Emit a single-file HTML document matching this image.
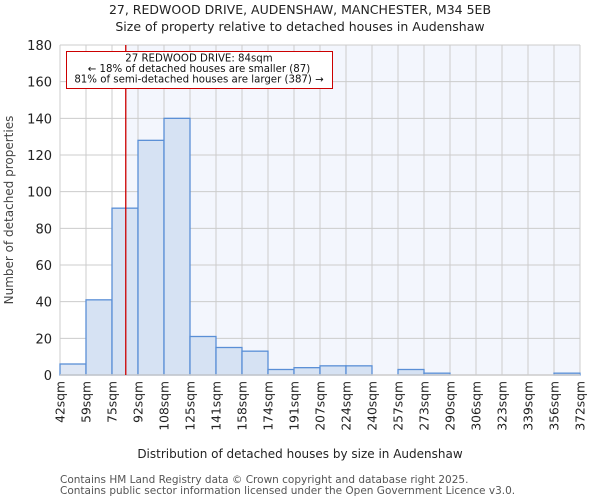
<!DOCTYPE html>
<html><head><meta charset="utf-8"><style>
body{margin:0;background:#fff;font-family:"DejaVu Sans","Liberation Sans",sans-serif;}
</style></head><body>
<svg width="600" height="500" xmlns="http://www.w3.org/2000/svg" font-family="DejaVu Sans, Liberation Sans, sans-serif">
<text x="300" y="14" text-anchor="middle" font-size="12.5" fill="#222">27, REDWOOD DRIVE, AUDENSHAW, MANCHESTER, M34 5EB</text>
<text x="300" y="31" text-anchor="middle" font-size="12.5" fill="#222">Size of property relative to detached houses in Audenshaw</text>
<g id="plot"></g>
<text x="300" y="458" text-anchor="middle" font-size="12" fill="#222">Distribution of detached houses by size in Audenshaw</text>
<text transform="translate(13,210) rotate(-90)" text-anchor="middle" font-size="12" fill="#444">Number of detached properties</text>
<text x="60" y="483" font-size="10.5" fill="#555">Contains HM Land Registry data © Crown copyright and database right 2025.</text>
<text x="60" y="494" font-size="10.5" fill="#555">Contains public sector information licensed under the Open Government Licence v3.0.</text>
</svg>
<script>
const edges=["42sqm","59sqm","75sqm","92sqm","108sqm","125sqm","141sqm","158sqm","174sqm","191sqm","207sqm","224sqm","240sqm","257sqm","273sqm","290sqm","306sqm","323sqm","339sqm","356sqm","372sqm"];
const counts=[6,41,91,128,140,21,15,13,3,4,5,5,0,3,1,0,0,0,0,1];
const yTicks=[0,20,40,60,80,100,120,140,160,180];
const markerIndex=2+9/17;
const NS="http://www.w3.org/2000/svg";
const L=60,R=580,T=45,B=375,yMax=180;
const bw=(R-L)/counts.length;
const xs=i=>L+i*bw;
const ys=v=>B-(v/yMax)*(B-T);
const g=document.getElementById('plot');
function mk(t,a){const e=document.createElementNS(NS,t);for(const k in a)e.setAttribute(k,a[k]);g.appendChild(e);return e;}
const mx=xs(markerIndex);
let e=mk('rect',{x:L,y:T,width:R-L,height:B-T,fill:'#fff'});

e=mk('rect',{x:mx,y:T,width:R-mx,height:B-T,fill:'#f3f6fd'});

yTicks.forEach(v=>{
 const l=mk('line',{x1:L,x2:R,y1:ys(v),y2:ys(v),stroke:'#ccc','stroke-width':1});
 
 const t=mk('text',{x:L-8,y:ys(v)+5,'text-anchor':'end','font-size':'13',fill:'#222'});
 t.textContent=v;
 
});
edges.forEach((s,i)=>{
 const l=mk('line',{x1:xs(i),x2:xs(i),y1:T,y2:B,stroke:'#ccc','stroke-width':1});
 
 const t=mk('text',{transform:`translate(${xs(i)+4.5},${B+6}) rotate(-90)`,'text-anchor':'end','font-size':'12.3',fill:'#222'});
 t.textContent=s;
 
});
counts.forEach((c,i)=>{
 if(c<=0)return;
 const r=mk('rect',{x:xs(i),y:ys(c),width:bw,height:B-ys(c),fill:i==0?'#dfe7f4':'#d6e2f3',stroke:'#5a8fd6','stroke-width':1.3});
 
});
e=mk('line',{x1:L,x2:R,y1:B,y2:B,stroke:'#ccc','stroke-width':1.5});

e=mk('line',{x1:mx,x2:mx,y1:T,y2:B,stroke:'#cc0000','stroke-width':1.3});

e=mk('rect',{x:66.5,y:51.5,width:266,height:37,fill:'#fff',stroke:'#cc0000','stroke-width':1});

["27 REDWOOD DRIVE: 84sqm","← 18% of detached houses are smaller (87)","81% of semi-detached houses are larger (387) →"].forEach((s,i)=>{
 const t=mk('text',{x:199,y:61.5+i*10.5,'text-anchor':'middle','font-size':'10.2',fill:'#111'});
 t.textContent=s;
 
});
</script>
</body></html>
